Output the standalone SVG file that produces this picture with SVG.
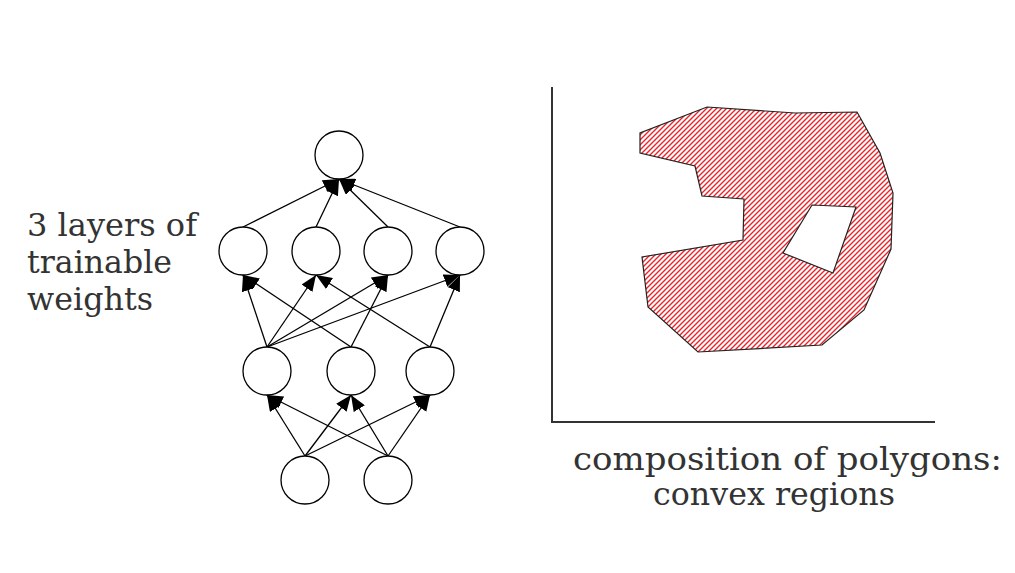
<svg xmlns="http://www.w3.org/2000/svg" width="1015" height="573" viewBox="0 0 1015 573">
<style>
.n{fill:#fff;stroke:#000;stroke-width:1.3}
.e line{stroke:#000;stroke-width:1.3;marker-end:url(#ah)}
.t{font-family:"DejaVu Serif","Liberation Serif",serif;font-size:32px;fill:#333}
.ax{stroke:#333;stroke-width:2;fill:none}
</style>
<defs>
<marker id="ah" markerUnits="userSpaceOnUse" markerWidth="17" markerHeight="13" refX="16" refY="6.5" orient="auto">
<path d="M0,0 L16,6.5 L0,13 z" fill="#000"/>
</marker>
<pattern id="hatch" patternUnits="userSpaceOnUse" width="5" height="5">
<rect width="5" height="5" fill="#fff"/>
<path d="M-1,6 L6,-1 M-1,1 L1,-1 M4,6 L6,4" stroke="#e8242a" stroke-width="1.4"/>
</pattern>
</defs>
<rect width="1015" height="573" fill="#fff"/>
<g id="connectors" class="e">
<line x1="243" y1="227" x2="339" y2="179"/>
<line x1="316" y1="227" x2="339" y2="179"/>
<line x1="388" y1="227" x2="339" y2="179"/>
<line x1="460" y1="227" x2="339" y2="179"/>
<line x1="267" y1="347" x2="243" y2="275"/>
<line x1="267" y1="347" x2="316" y2="275"/>
<line x1="267" y1="347" x2="388" y2="275"/>
<line x1="267" y1="347" x2="460" y2="275"/>
<line x1="351" y1="347" x2="243" y2="275"/>
<line x1="351" y1="347" x2="388" y2="275"/>
<line x1="430" y1="347" x2="316" y2="275"/>
<line x1="430" y1="347" x2="460" y2="275"/>
<line x1="305" y1="456" x2="267" y2="395"/>
<line x1="305" y1="456" x2="351" y2="395"/>
<line x1="305" y1="456" x2="430" y2="395"/>
<line x1="388" y1="456" x2="267" y2="395"/>
<line x1="388" y1="456" x2="351" y2="395"/>
<line x1="388" y1="456" x2="430" y2="395"/>
</g>
<g id="out"><circle class="n" cx="339" cy="155" r="24"/></g>
<g id="h2a"><circle class="n" cx="243" cy="251" r="24"/></g>
<g id="h2b"><circle class="n" cx="316" cy="251" r="24"/></g>
<g id="h2c"><circle class="n" cx="388" cy="251" r="24"/></g>
<g id="h2d"><circle class="n" cx="460" cy="251" r="24"/></g>
<g id="h1a"><circle class="n" cx="267" cy="371" r="24"/></g>
<g id="h1b"><circle class="n" cx="351" cy="371" r="24"/></g>
<g id="h1c"><circle class="n" cx="430" cy="371" r="24"/></g>
<g id="in1"><circle class="n" cx="305" cy="480" r="24"/></g>
<g id="in2"><circle class="n" cx="388" cy="480" r="24"/></g>
<g id="label-left">
<text class="t" x="27" y="236" textLength="170" lengthAdjust="spacingAndGlyphs">3 layers of</text>
<text class="t" x="27" y="273" textLength="145" lengthAdjust="spacingAndGlyphs">trainable</text>
<text class="t" x="27" y="310" textLength="126" lengthAdjust="spacingAndGlyphs">weights</text>
</g>
<g id="plot">
<polyline class="ax" points="552,87 552,422 935,422"/>
<path fill="url(#hatch)" fill-rule="evenodd" stroke="#222" stroke-width="1.2" d="M707,107 L795,113 L857,112 L880,153 L893,193 L891,249 L864,310 L822,345 L698,352 L648,307 L642,257 L743,240 L744,199 L702,196 L695,166 L640,153 L640,133 Z M812,205 L856,207 L833,273 L783,253 Z"/>
</g>
<g id="label-bottom">
<text class="t" x="573" y="470" textLength="429" lengthAdjust="spacingAndGlyphs">composition of polygons:</text>
<text class="t" x="653" y="505" textLength="242" lengthAdjust="spacingAndGlyphs">convex regions</text>
</g>
</svg>
